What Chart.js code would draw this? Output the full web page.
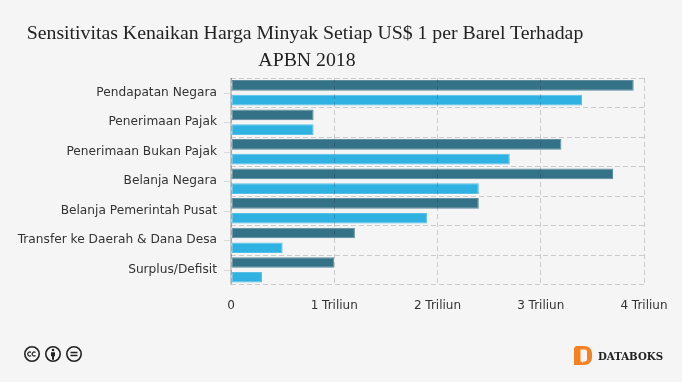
<!DOCTYPE html>
<html>
<head>
<meta charset="utf-8">
<script src="https://cdn.jsdelivr.net/npm/chart.js@4"></script>
<style>
  html, body { margin: 0; padding: 0; background: #f5f5f5; overflow: hidden; }
  #wrap { position: relative; width: 682px; height: 382px; }
  #title { position: absolute; left: 0; top: 19px; width: 610px; text-align: center;
    font: 19.8px/27px "Liberation Serif", serif; color: #222; }
  #title span { position: relative; left: 2px; }
  #cc { position: absolute; left: 23px; top: 345px; }
  #logo { position: absolute; left: 574px; top: 345px; }
  #brand { position: absolute; left: 598px; top: 349px; font: bold 10.2px/14px "DejaVu Serif", serif; color: #222; }
</style>
</head>
<body>
<div id="wrap">
  <canvas id="chart" width="682" height="382"></canvas>
  <div id="title">Sensitivitas Kenaikan Harga Minyak Setiap US$ 1 per Barel Terhadap<br><span>APBN 2018</span></div>
  <svg id="cc" width="62" height="18" fill="none" stroke="#222" stroke-width="1.6">
    <circle cx="9" cy="9" r="7.2"/>
    <circle cx="30" cy="9" r="7.2"/>
    <circle cx="51" cy="9" r="7.2"/>
    <path d="M8 7.500a2 2 0 1 0 0 3M12.500 7.500a2 2 0 1 0 0 3" stroke-width="1.200"/>
    <circle cx="30" cy="5" r="1.300" fill="#222" stroke="none"/>
    <path d="M28 7.200h4v4h-1v3.500h-2v-3.500h-1z" fill="#222" stroke="none"/>
    <path d="M47.500 7.500h7M47.500 10.500h7" stroke-width="1.400"/>
  </svg>
  <svg id="logo" width="20" height="22">
    <path d="M0 3l2-2h8c5 0 8 3.500 8 8v3c0 4.500-3 8-8 8H0z" fill="#f58220"/>
    <path d="M6.500 4.500h4.500c1 0 2 .8 2 2v8c0 1.200-1 2-2 2H9.500L8 18v-1.500H6.500z" fill="#f5f5f5"/>
  </svg>
  <div id="brand">DATABOKS</div>
</div>
<script>
const categories = ["Pendapatan Negara", "Penerimaan Pajak", "Penerimaan Bukan Pajak", "Belanja Negara",
  "Belanja Pemerintah Pusat", "Transfer ke Daerah & Dana Desa", "Surplus/Defisit"];
const seriesDark = [3.9, 0.8, 3.2, 3.7, 2.4, 1.2, 1.0];
const seriesLight = [3.4, 0.8, 2.7, 2.4, 1.9, 0.5, 0.3];
const xTickLabels = ["0", "1 Triliun", "2 Triliun", "3 Triliun", "4 Triliun"];

// tick marks sit on the label centre, not on the band edge, plus the zero axis line
const axisMarks = {
  id: "axisMarks",
  afterDatasetsDraw(chart) {
    const y = chart.scales.y, x = chart.scales.x, ctx = chart.ctx;
    ctx.save();
    ctx.strokeStyle = "#d8d8d8";
    ctx.lineWidth = 1;
    categories.forEach(function (c, i) {
      const p = Math.round(y.getPixelForValue(i)) + 0.5;
      ctx.beginPath();
      ctx.moveTo(x.left - 7, p);
      ctx.lineTo(x.left, p);
      ctx.stroke();
    });
    ctx.strokeStyle = "#c8c8c8";
    ctx.lineWidth = 2;
    ctx.beginPath();
    ctx.moveTo(x.left, y.top);
    ctx.lineTo(x.left, y.bottom);
    ctx.stroke();
    ctx.restore();
  }
};

const gridColor = "rgba(0,0,0,0.17)";

new Chart(document.getElementById("chart"), {
  type: "bar",
  plugins: [axisMarks],
  data: {
    labels: categories,
    datasets: [
      { data: seriesDark, backgroundColor: "#337287", borderColor: "#5a8c9e", borderWidth: 1, borderSkipped: false },
      { data: seriesLight, backgroundColor: "#2fb2e2", borderColor: "#55c0e8", borderWidth: 1, borderSkipped: false }
    ]
  },
  options: {
    indexAxis: "y",
    responsive: false,
    animation: false,
    layout: { padding: { top: 78, right: 38, bottom: 55, left: 0 } },
    plugins: { legend: { display: false }, title: { display: false }, tooltip: { enabled: false } },
    datasets: { bar: { categoryPercentage: 1, barPercentage: 0.72 } },
    scales: {
      x: {
        min: 0, max: 4,
        ticks: {
          stepSize: 1, maxRotation: 0, padding: 14, color: "#333",
          font: { family: "DejaVu Sans", size: 12 },
          callback: function (v) { return xTickLabels[v]; }
        },
        grid: { color: gridColor, z: 1, drawTicks: false, tickLength: 0 },
        border: { display: false, dash: [5, 3] }
      },
      y: {
        afterFit: function (scale) { scale.width = 231; },
        ticks: { padding: 14, color: "#333", font: { family: "DejaVu Sans", size: 12.2 } },
        grid: { color: gridColor, z: 1, drawTicks: false, tickLength: 0 },
        border: { display: false, dash: [5, 3] }
      }
    }
  }
});
</script>
</body>
</html>
